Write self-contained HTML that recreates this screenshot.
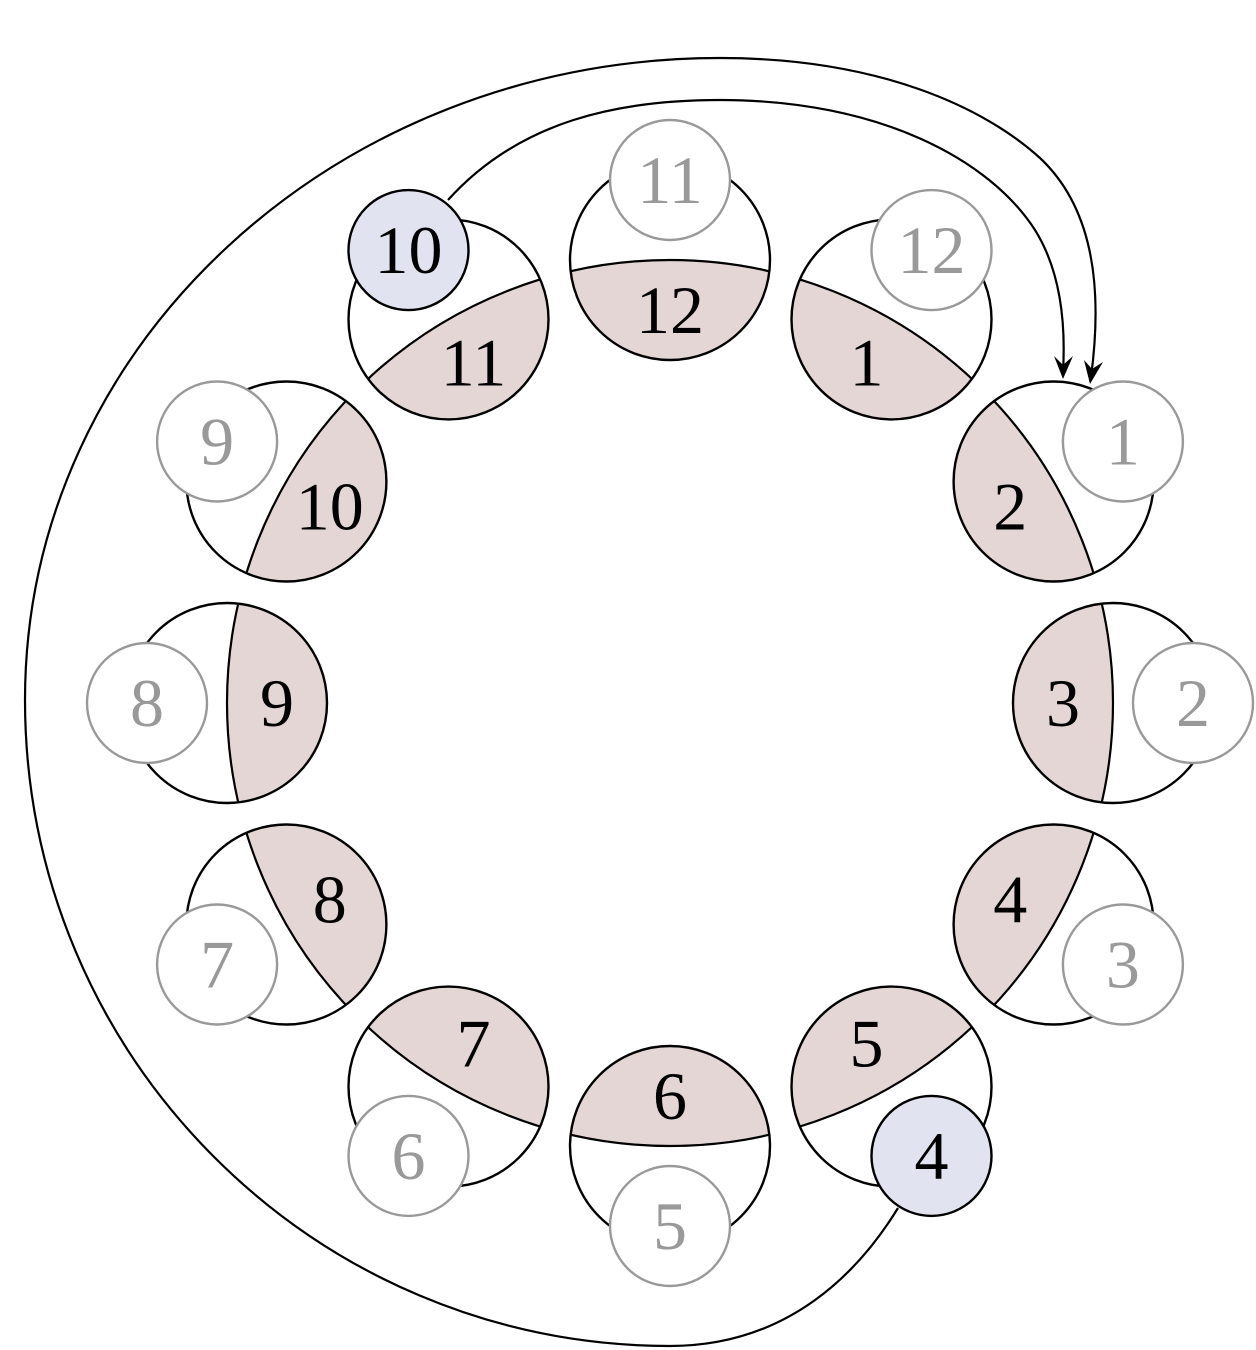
<!DOCTYPE html>
<html><head><meta charset="utf-8"><style>
html,body{margin:0;padding:0;background:#fff}
svg{display:block}
text{font-family:"Liberation Serif",serif;font-size:68px;text-anchor:middle;dominant-baseline:central}
.g{fill:#999}
</style></head><body>
<svg width="1256" height="1350" viewBox="0 0 1256 1350" xmlns="http://www.w3.org/2000/svg">
<defs>
<clipPath id="ring"><circle cx="670" cy="703" r="443"/></clipPath>
<clipPath id="bigs">
<circle cx="670" cy="260" r="100"/><circle cx="891.5" cy="319.4" r="100"/><circle cx="1053.6" cy="481.5" r="100"/>
<circle cx="1113" cy="703" r="100"/><circle cx="1053.6" cy="924.5" r="100"/><circle cx="891.5" cy="1086.6" r="100"/>
<circle cx="670" cy="1146" r="100"/><circle cx="448.5" cy="1086.6" r="100"/><circle cx="286.4" cy="924.5" r="100"/>
<circle cx="227" cy="703" r="100"/><circle cx="286.4" cy="481.5" r="100"/><circle cx="448.5" cy="319.4" r="100"/>
</clipPath>
</defs>
<g fill="none" stroke="#000" stroke-width="2.2">
<path d="M448,200 C520,120 620,100 720,100 C880,100 990,160 1035,230 C1060,270 1066,320 1063,372"/>
<path d="M898,1208 C860,1270 790,1346 670,1346 C314,1346 25,1057 25,700 C25,345 336,58 720,58 C880,58 985,108 1040,158 C1090,205 1104,280 1091,377"/>
</g>
<path d="M1063,379 L1054,356 L1063,365 L1073,356 Z" fill="#000"/>
<path d="M1090,384 L1084,360 L1092,369 L1103,362 Z" fill="#000"/>
<g fill="#fff" stroke="none">
<circle cx="670" cy="260" r="100"/><circle cx="891.5" cy="319.4" r="100"/><circle cx="1053.6" cy="481.5" r="100"/>
<circle cx="1113" cy="703" r="100"/><circle cx="1053.6" cy="924.5" r="100"/><circle cx="891.5" cy="1086.6" r="100"/>
<circle cx="670" cy="1146" r="100"/><circle cx="448.5" cy="1086.6" r="100"/><circle cx="286.4" cy="924.5" r="100"/>
<circle cx="227" cy="703" r="100"/><circle cx="286.4" cy="481.5" r="100"/><circle cx="448.5" cy="319.4" r="100"/>
</g>
<g fill="#e3d6d4" clip-path="url(#ring)">
<circle cx="670" cy="260" r="100"/><circle cx="891.5" cy="319.4" r="100"/><circle cx="1053.6" cy="481.5" r="100"/>
<circle cx="1113" cy="703" r="100"/><circle cx="1053.6" cy="924.5" r="100"/><circle cx="891.5" cy="1086.6" r="100"/>
<circle cx="670" cy="1146" r="100"/><circle cx="448.5" cy="1086.6" r="100"/><circle cx="286.4" cy="924.5" r="100"/>
<circle cx="227" cy="703" r="100"/><circle cx="286.4" cy="481.5" r="100"/><circle cx="448.5" cy="319.4" r="100"/>
</g>
<circle cx="670" cy="703" r="443" fill="none" stroke="#000" stroke-width="2.2" clip-path="url(#bigs)"/>
<g fill="none" stroke="#000" stroke-width="2.4">
<circle cx="670" cy="260" r="100"/><circle cx="891.5" cy="319.4" r="100"/><circle cx="1053.6" cy="481.5" r="100"/>
<circle cx="1113" cy="703" r="100"/><circle cx="1053.6" cy="924.5" r="100"/><circle cx="891.5" cy="1086.6" r="100"/>
<circle cx="670" cy="1146" r="100"/><circle cx="448.5" cy="1086.6" r="100"/><circle cx="286.4" cy="924.5" r="100"/>
<circle cx="227" cy="703" r="100"/><circle cx="286.4" cy="481.5" r="100"/><circle cx="448.5" cy="319.4" r="100"/>
</g>
<g fill="#000">
<text x="670" y="310">12</text>
<text x="866.5" y="362.7">1</text>
<text x="1010.3" y="506.5">2</text>
<text x="1063" y="703">3</text>
<text x="1010.3" y="899.5">4</text>
<text x="866.5" y="1043.3">5</text>
<text x="670" y="1096">6</text>
<text x="473.5" y="1043.3">7</text>
<text x="329.7" y="899.5">8</text>
<text x="277" y="703">9</text>
<text x="329.7" y="506.5">10</text>
<text x="473.5" y="362.7">11</text>
</g>
<g fill="#fff" stroke="#999" stroke-width="2.4">
<circle cx="670" cy="180" r="60"/><circle cx="931.5" cy="250.1" r="60"/><circle cx="1122.9" cy="441.5" r="60"/>
<circle cx="1193" cy="703" r="60"/><circle cx="1122.9" cy="964.5" r="60"/>
<circle cx="670" cy="1226" r="60"/><circle cx="408.5" cy="1155.9" r="60"/><circle cx="217.1" cy="964.5" r="60"/>
<circle cx="147" cy="703" r="60"/><circle cx="217.1" cy="441.5" r="60"/>
</g>
<g fill="#e1e4f0" stroke="#000" stroke-width="2.4">
<circle cx="931.5" cy="1155.9" r="60"/><circle cx="408.5" cy="250.1" r="60"/>
</g>
<g class="g">
<text x="670" y="180">11</text>
<text x="931.5" y="250.1">12</text>
<text x="1122.9" y="441.5">1</text>
<text x="1193" y="703">2</text>
<text x="1122.9" y="964.5">3</text>
<text x="670" y="1226">5</text>
<text x="408.5" y="1155.9">6</text>
<text x="217.1" y="964.5">7</text>
<text x="147" y="703">8</text>
<text x="217.1" y="441.5">9</text>
</g>
<g fill="#000">
<text x="931.5" y="1155.9">4</text>
<text x="408.5" y="250.1">10</text>
</g>
</svg>
</body></html>
